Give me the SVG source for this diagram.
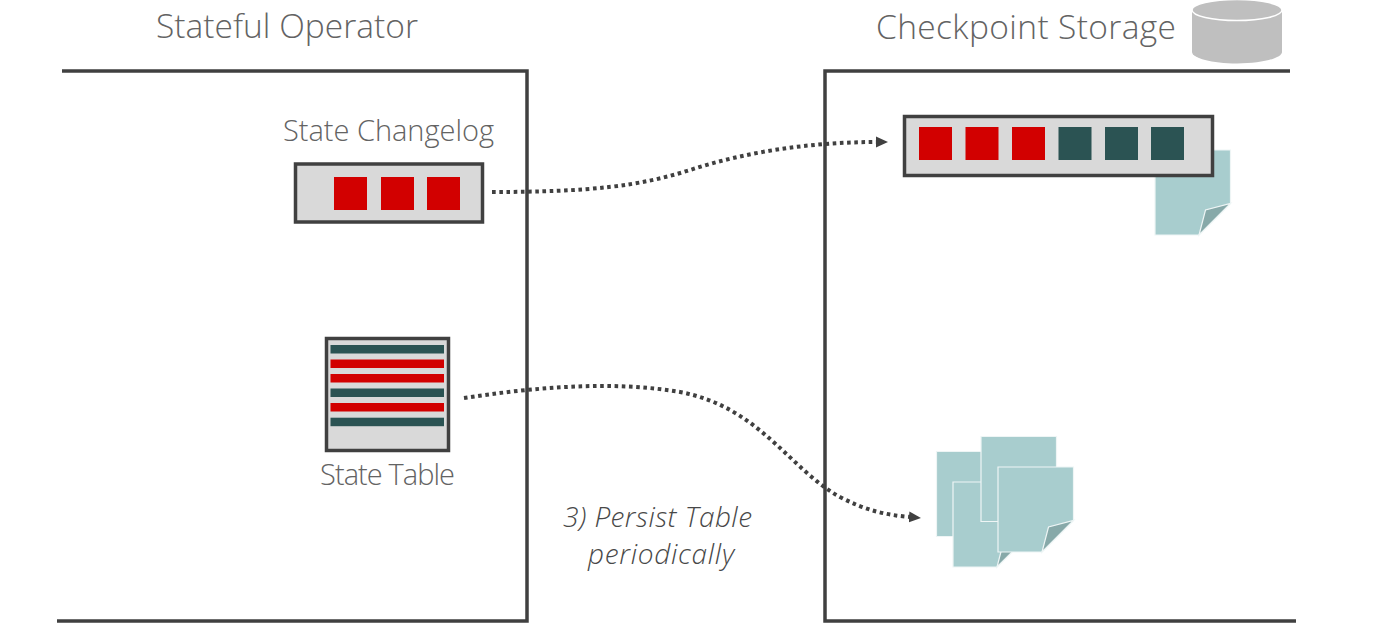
<svg xmlns="http://www.w3.org/2000/svg" width="1378" height="634" viewBox="0 0 1378 634">
<style>
text{font-family:"Open Sans","Noto Sans","Liberation Sans",sans-serif;font-weight:300;fill:#636363}
.h{font-size:33.500px}.l{font-size:29px}
.it{font-size:28px;font-style:italic;fill:#484848}
.frame{fill:none;stroke:#404040;stroke-width:3.500}
.box{fill:#d9d9d9;stroke:#404040;stroke-width:3.500}
.r{fill:#d20000}.g{fill:#2b5353}
.page{fill:#a8cdce;stroke:#eef5f5;stroke-width:1.200}
.fold{fill:#87a9a9;stroke:#eef5f5;stroke-width:1.200}
.conn{fill:none;stroke:#404040;stroke-width:4;stroke-dasharray:3.600 3.600;marker-end:url(#arrow)}
</style>
<defs>
<marker id="arrow" markerUnits="userSpaceOnUse" markerWidth="13" markerHeight="13" refX="1" refY="6.500" orient="auto"><path d="M0,1L12,6.500L0,12z" fill="#404040"/></marker>
<g id="pg"><path class="page" d="M0,0H75.500V53.500L44,85H0z"/><path class="fold" d="M44,85L50.500,60L75.500,53.500z"/></g>
</defs>
<rect width="1378" height="634" fill="#fff"/>
<g id="stateful-operator"><path class="frame" d="M62,71H527V621H57"/><text class="h" x="156" y="38" textLength="262">Stateful Operator</text></g>
<g id="checkpoint-storage"><path class="frame" d="M1290,71H825V621H1296"/><text class="h" x="876" y="39" textLength="300">Checkpoint Storage</text>
<path d="M1192,10V52C1192,58 1212,63.500 1237,63.500S1282,58 1282,52V10z" fill="#bfbfbf"/><ellipse cx="1237" cy="10" rx="45" ry="10.500" fill="#bfbfbf" stroke="#fff" stroke-width="1.500"/></g>
<g id="connectors">
<path class="conn" d="M492,192C590,192 640,186 690,170C745,152 810,142 877,142"/>
<path class="conn" d="M464,398C530,388 610,380 680,392C760,407 790,470 840,497C865,510 885,515 910,517"/>
</g>
<g id="state-changelog"><text class="l" x="283" y="141" textLength="211">State Changelog</text><rect class="box" x="295.500" y="164" width="187" height="58"/>
<rect class="r" x="334" y="177" width="33" height="33"/><rect class="r" x="381" y="177" width="33" height="33"/><rect class="r" x="427" y="177" width="33" height="33"/></g>
<g id="state-table"><rect class="box" x="326.500" y="338.500" width="122" height="112"/>
<rect class="g" x="330.500" y="345" width="113.500" height="8.500"/><rect class="r" x="330.500" y="359.500" width="113.500" height="8.500"/><rect class="r" x="330.500" y="374" width="113.500" height="8.500"/><rect class="g" x="330.500" y="388.500" width="113.500" height="8.500"/><rect class="r" x="330.500" y="403" width="113.500" height="8.500"/><rect class="g" x="330.500" y="417.700" width="113.500" height="8.500"/>
<text class="l" x="320" y="485" textLength="135">State Table</text></g>
<g id="checkpoint-log"><use href="#pg" x="1155" y="150"/><rect class="box" x="904.500" y="116.500" width="308" height="59"/>
<rect class="r" x="919" y="127" width="33" height="33"/><rect class="r" x="965.500" y="127" width="33" height="33"/><rect class="r" x="1012" y="127" width="33" height="33"/><rect class="g" x="1058.500" y="127" width="33" height="33"/><rect class="g" x="1105" y="127" width="33" height="33"/><rect class="g" x="1151" y="127" width="33" height="33"/></g>
<g id="checkpoint-files"><use href="#pg" x="936.500" y="451.500"/><use href="#pg" x="953" y="482"/><use href="#pg" x="981" y="436.500"/><use href="#pg" x="998" y="467"/></g>
<g id="persist-label"><text class="it" x="563" y="527" textLength="189">3) Persist Table</text><text class="it" x="588" y="564" textLength="146">periodically</text></g>
</svg>
